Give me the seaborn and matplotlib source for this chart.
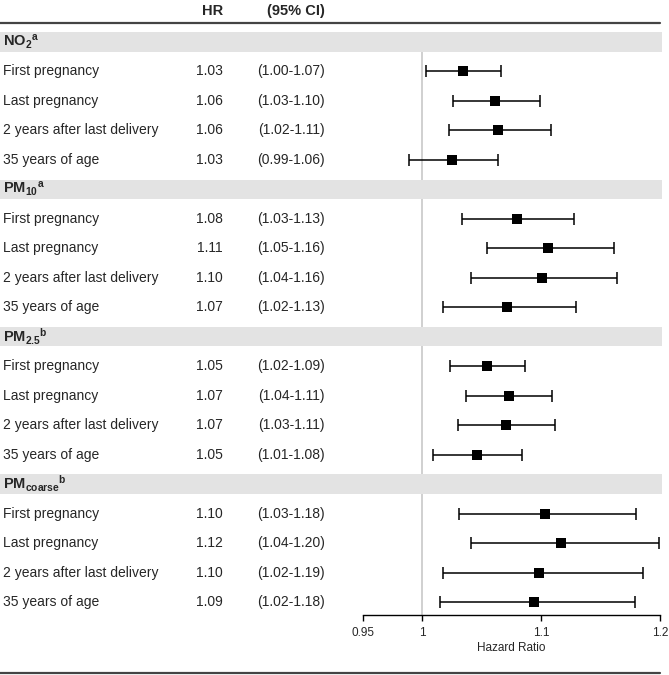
import numpy as np
import pandas as pd
import matplotlib.pyplot as plt
import matplotlib.transforms as mtransforms
from matplotlib.lines import Line2D
import seaborn as sns

# 데이터
groups = [r'$\mathbf{NO_2{}^a}$', r'$\mathbf{PM_{10}{}^a}$',
          r'$\mathbf{PM_{2.5}{}^b}$', r'$\mathbf{PM_{coarse}{}^b}$']
periods = ['First pregnancy', 'Last pregnancy',
           '2 years after last delivery', '35 years of age']

# 표에 적힌 값 (텍스트)
hr_text = ['1.03', '1.06', '1.06', '1.03',
           '1.08', '1.11', '1.10', '1.07',
           '1.05', '1.07', '1.07', '1.05',
           '1.10', '1.12', '1.10', '1.09']
ci_text = ['(1.00-1.07)', '(1.03-1.10)', '(1.02-1.11)', '(0.99-1.06)',
           '(1.03-1.13)', '(1.05-1.16)', '(1.04-1.16)', '(1.02-1.13)',
           '(1.02-1.09)', '(1.04-1.11)', '(1.03-1.11)', '(1.01-1.08)',
           '(1.03-1.18)', '(1.04-1.20)', '(1.02-1.19)', '(1.02-1.18)']

# 그림에서 읽은 점/구간 위치 (반올림 전 값)
hr = [1.034, 1.061, 1.064, 1.025,
      1.080, 1.106, 1.101, 1.071,
      1.054, 1.073, 1.070, 1.046,
      1.103, 1.117, 1.098, 1.094]
ci_low = [1.003, 1.026, 1.022, 0.989,
          1.033, 1.054, 1.041, 1.017,
          1.023, 1.037, 1.030, 1.009,
          1.031, 1.041, 1.017, 1.015]
ci_high = [1.066, 1.099, 1.108, 1.064,
           1.128, 1.161, 1.164, 1.129,
           1.086, 1.109, 1.112, 1.084,
           1.180, 1.199, 1.186, 1.179]
xticks = [0.95, 1, 1.1, 1.2]
xticklabels = ['0.95', '1', '1.1', '1.2']

# 행 위치 (그룹 헤더 + 4행씩)
rows = []
for g in range(len(groups)):
    for p in range(len(periods)):
        rows.append(g * 5 + p + 1)
df = pd.DataFrame({'row': rows, 'hr': hr, 'lo': ci_low, 'hi': ci_high,
                   'label': periods * len(groups),
                   'hr_txt': hr_text, 'ci_txt': ci_text})

sns.set_style('white')
plt.rcParams['font.family'] = ['Liberation Sans', 'DejaVu Sans']
plt.rcParams['mathtext.fontset'] = 'custom'
plt.rcParams['mathtext.rm'] = 'Liberation Sans'
plt.rcParams['mathtext.bf'] = 'Liberation Sans:bold'

W, H = 669, 675
fig = plt.figure(figsize=(W / 100, H / 100), dpi=100)
ax = fig.add_axes([363 / W, 60 / H, 297 / W, 615 / H])
ax.set_xlim(0.95, 1.2)
ax.set_ylim(19.44, -1.42)

trans = mtransforms.blended_transform_factory(fig.transFigure, ax.transData)

# 기준선 (HR = 1)
ax.vlines(1, 0.34, 19.44, color='#c8c8c8', linewidth=1.2, zorder=1)

# 그룹 배경 띠
for g, name in enumerate(groups):
    y = g * 5
    ax.axhspan(y - 0.33, y + 0.33, xmin=-363 / 297, xmax=(662 - 363) / 297,
               color='#e3e3e3', clip_on=False, zorder=2, linewidth=0)
    ax.text(3 / W, y, name, transform=trans, fontsize=10.5, va='center',
            ha='left', zorder=3)

# 신뢰구간 + 점
ax.errorbar(df['hr'], df['row'],
            xerr=[df['hr'] - df['lo'], df['hi'] - df['hr']],
            fmt='none', ecolor='black', elinewidth=1.1, capsize=4,
            capthick=1.1, zorder=3)
sns.scatterplot(data=df, x='hr', y='row', marker='s', s=42, color='black',
                edgecolor='black', linewidth=0, ax=ax, zorder=4, legend=False)

# 텍스트 컬럼
for _, r in df.iterrows():
    ax.text(3 / W, r['row'], r['label'], transform=trans, fontsize=10,
            va='center', ha='left')
    ax.text(223 / W, r['row'], r['hr_txt'], transform=trans,
            fontsize=10, va='center', ha='right')
    ax.text(325 / W, r['row'], r['ci_txt'],
            transform=trans, fontsize=10, va='center', ha='right')

# 헤더
ax.text(223 / W, -1.05, 'HR', transform=trans, fontsize=10.5,
        fontweight='bold', va='center', ha='right')
ax.text(325 / W, -1.05, '(95% CI)', transform=trans, fontsize=10.5,
        fontweight='bold', va='center', ha='right')
ax.plot([0, 660 / W], [-0.63, -0.63], transform=trans, color='#444444',
        linewidth=1.6, clip_on=False)
fig.add_artist(Line2D([0, 660 / W], [2 / H, 2 / H], color='#444444',
                      linewidth=1.6))

# 축
for s in ['left', 'top', 'right']:
    ax.spines[s].set_visible(False)
ax.spines['bottom'].set_color('black')
ax.spines['bottom'].set_linewidth(1)
ax.set_yticks([])
ax.set_xticks(xticks)
ax.set_xticklabels(xticklabels, fontsize=8.5)
ax.tick_params(axis='x', direction='out', length=4.5, width=1, color='black',
               pad=4, bottom=True)
ax.set_xlabel('Hazard Ratio', fontsize=8.5, labelpad=2)
ax.set_ylabel('')
ax.patch.set_alpha(0)

plt.savefig('out.png', dpi=100)
